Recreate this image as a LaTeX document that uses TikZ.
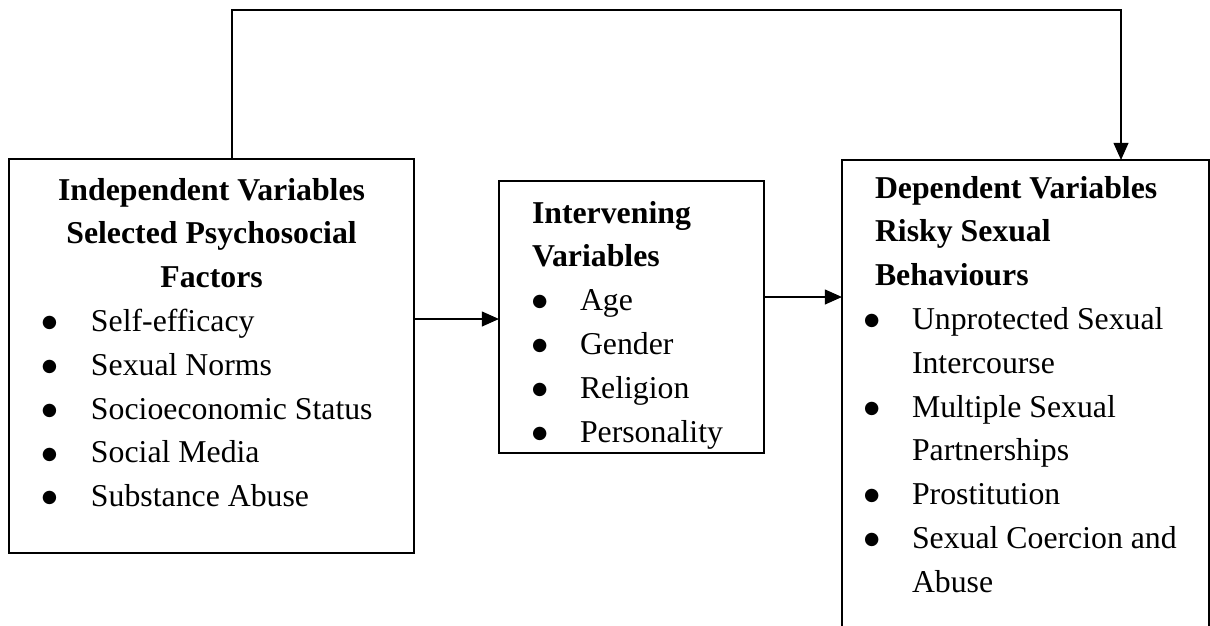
\documentclass[tikz,border=0pt]{standalone}
\usepackage{fontspec}
\setmainfont{Liberation Serif}
\newfontfamily\symfont{DejaVu Sans}
\usetikzlibrary{positioning,arrows.meta}

\newlength{\pxu}
\setlength{\pxu}{0.025cm}
\newcommand{\bul}{\raisebox{2.6pt}{\symfont\fontsize{12.5pt}{12.5pt}\selectfont ●}}
\newcommand{\itm}[2]{\hspace*{#1\pxu}\makebox[#2\pxu][l]{\bul}}
\newcommand{\cont}{\hspace*{70\pxu}}

\begin{document}
\begin{tikzpicture}[x=0.025cm, y=-0.025cm,
	varbox/.style = {draw, line width=1.4pt, inner sep=0pt, outer sep=0pt,
		anchor=north west, font=\fontsize{22.6pt}{31.15pt}\selectfont},
	link/.style = {line width=1.4pt, -{Triangle[length=0.43cm, width=0.37cm]}}]
	
	\clip (0,0) rectangle (1210,625);
	
	\node[varbox] (ind) at (9,159) {\parbox[t][9.85cm][t]{10.125cm}{%
		\centering\rule{0pt}{41\pxu}\textbf{Independent Variables}\\
		\textbf{Selected Psychosocial}\\
		\textbf{Factors}\par
		\raggedright
		\itm{33}{49}Self-efficacy\\
		\itm{33}{49}Sexual Norms\\
		\itm{33}{49}Socioeconomic Status\\
		\itm{33}{49}Social Media\\
		\itm{33}{49}Substance Abuse}};
	
	\node[varbox] (int) at (499,181) {\parbox[t][6.8cm][t]{6.625cm}{%
		\raggedright\rule{0pt}{42\pxu}\hspace*{33\pxu}\textbf{Intervening}\\
		\hspace*{33\pxu}\textbf{Variables}\\
		\itm{33}{48}Age\\
		\itm{33}{48}Gender\\
		\itm{33}{48}Religion\\
		\itm{33}{48}Personality}};
	
	\node[varbox] (dep) at (842,160) {\parbox[t][12cm][t]{9.1625cm}{%
		\raggedright\rule{0pt}{38\pxu}\hspace*{33\pxu}\textbf{Dependent Variables}\\
		\hspace*{33\pxu}\textbf{Risky Sexual}\\
		\hspace*{33\pxu}\textbf{Behaviours}\\
		\itm{22}{48}Unprotected Sexual\\
		\cont Intercourse\\
		\itm{22}{48}Multiple Sexual\\
		\cont Partnerships\\
		\itm{22}{48}Prostitution\\
		\itm{22}{48}Sexual Coercion and\\
		\cont Abuse}};
	
	% feedback line over the top
	\coordinate (tl) at (232,10);
	\coordinate (tr) at (1121,10);
	\draw[link] (tl |- ind.north) -- (tl) -- (tr) -- (tr |- dep.north);
	
	\coordinate (a1) at (0,319);
	\coordinate (a2) at (0,297);
	\draw[link] (ind.east |- a1) -- (int.west |- a1);
	\draw[link] (int.east |- a2) -- (dep.west |- a2);
\end{tikzpicture}
\end{document}
